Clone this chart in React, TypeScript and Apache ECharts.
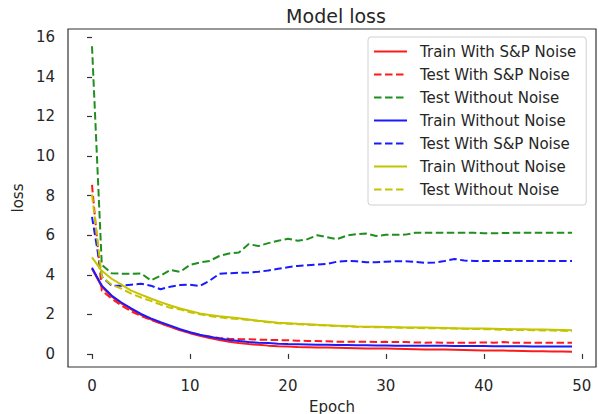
import React, { useEffect, useRef } from "react";
import * as echarts from "echarts";

// Loss per epoch (epochs 0..49)
const trainSP = [
  4.3, 3.4, 2.9, 2.55, 2.25, 1.98, 1.75, 1.55, 1.37, 1.2,
  1.05, 0.92, 0.8, 0.7, 0.62, 0.55, 0.5, 0.46, 0.42, 0.39,
  0.37, 0.35, 0.34, 0.33, 0.32, 0.31, 0.3, 0.29, 0.28, 0.27,
  0.27, 0.26, 0.25, 0.24, 0.23, 0.22, 0.22, 0.21, 0.2, 0.19,
  0.18, 0.17, 0.17, 0.16, 0.15, 0.14, 0.13, 0.12, 0.12, 0.11,
];
const testSP = [
  8.54, 3.2, 2.8, 2.45, 2.15, 1.92, 1.72, 1.55, 1.38, 1.22,
  1.08, 0.96, 0.88, 0.8, 0.77, 0.75, 0.74, 0.72, 0.71, 0.7,
  0.69, 0.67, 0.66, 0.65, 0.64, 0.62, 0.62, 0.61, 0.62, 0.6,
  0.61, 0.6, 0.6, 0.58, 0.57, 0.58, 0.57, 0.57, 0.56, 0.57,
  0.58, 0.57, 0.6, 0.57, 0.56, 0.57, 0.57, 0.56, 0.57, 0.57,
];
const testClean = [
  15.55, 4.5, 4.08, 4.05, 4.05, 4.07, 3.72, 3.95, 4.24, 4.15,
  4.5, 4.62, 4.7, 4.95, 5.08, 5.13, 5.55, 5.45, 5.6, 5.72,
  5.82, 5.72, 5.8, 6.0, 5.9, 5.8, 5.98, 6.05, 6.08, 5.96,
  6.02, 6.02, 6.03, 6.12, 6.12, 6.13, 6.12, 6.13, 6.12, 6.12,
  6.1, 6.1, 6.11, 6.12, 6.12, 6.12, 6.12, 6.12, 6.12, 6.12,
];
const trainClean = [
  4.35, 3.45, 2.95, 2.6, 2.3, 2.02, 1.8, 1.6, 1.43, 1.25,
  1.1, 0.97, 0.87, 0.78, 0.7, 0.65, 0.6, 0.57, 0.55, 0.52,
  0.5, 0.49, 0.48, 0.47, 0.46, 0.45, 0.45, 0.44, 0.44, 0.43,
  0.43, 0.42, 0.42, 0.42, 0.41, 0.41, 0.41, 0.4, 0.4, 0.4,
  0.4, 0.39, 0.39, 0.39, 0.39, 0.38, 0.38, 0.38, 0.38, 0.38,
];
const testSP2 = [
  6.93, 3.9, 3.45, 3.45, 3.5, 3.55, 3.45, 3.27, 3.4, 3.48,
  3.5, 3.43, 3.7, 4.05, 4.08, 4.1, 4.12, 4.15, 4.22, 4.3,
  4.38, 4.45, 4.48, 4.52, 4.55, 4.66, 4.7, 4.68, 4.63, 4.63,
  4.66, 4.68, 4.68, 4.66, 4.6, 4.62, 4.7, 4.8, 4.72, 4.7,
  4.7, 4.7, 4.7, 4.7, 4.7, 4.7, 4.7, 4.7, 4.7, 4.7,
];
const trainClean2 = [
  4.88, 4.2, 3.8, 3.5, 3.2, 3.0, 2.8, 2.62, 2.45, 2.3,
  2.17, 2.05, 1.97, 1.9, 1.85, 1.8, 1.74, 1.68, 1.63, 1.58,
  1.55, 1.52, 1.5, 1.47, 1.45, 1.43, 1.41, 1.39, 1.38, 1.37,
  1.36, 1.35, 1.34, 1.33, 1.33, 1.32, 1.31, 1.3, 1.29, 1.28,
  1.28, 1.27, 1.26, 1.25, 1.25, 1.24, 1.23, 1.22, 1.21, 1.2,
];
const testClean2 = [
  8.05, 3.9, 3.5, 3.3, 3.05, 2.85, 2.68, 2.5, 2.33, 2.25,
  2.1, 2.0, 1.92, 1.85, 1.8, 1.76, 1.72, 1.66, 1.6, 1.55,
  1.53, 1.5, 1.48, 1.45, 1.43, 1.41, 1.39, 1.37, 1.36, 1.35,
  1.34, 1.33, 1.32, 1.31, 1.3, 1.3, 1.29, 1.28, 1.27, 1.26,
  1.25, 1.24, 1.22, 1.21, 1.21, 1.2, 1.19, 1.18, 1.17, 1.15,
];

const xTicks = [0, 10, 20, 30, 40, 50];
const yTicks = [0, 2, 4, 6, 8, 10, 12, 14, 16];

// Legend labels repeat, so each series gets trailing spaces to keep it distinct;
// the legend formatter trims them back off.
const seriesDefs = [
  { name: "Train With S&P Noise", data: trainSP, color: "#ff1a1a", dashed: false },
  { name: "Test With S&P Noise", data: testSP, color: "#ff1a1a", dashed: true },
  { name: "Test Without Noise", data: testClean, color: "#1f8f1f", dashed: true },
  { name: "Train Without Noise", data: trainClean, color: "#1a1aff", dashed: false },
  { name: "Test With S&P Noise ", data: testSP2, color: "#1a1aff", dashed: true },
  { name: "Train Without Noise ", data: trainClean2, color: "#c4c400", dashed: false },
  { name: "Test Without Noise ", data: testClean2, color: "#c4c400", dashed: true },
];

const FONT = "DejaVu Sans";
const TEXT = "#262626";
const AXIS = "#333333";

export default function App() {
  const ref = useRef<HTMLDivElement>(null);

  useEffect(() => {
    if (!ref.current) return;
    const chart = echarts.init(ref.current, undefined, { renderer: "svg" });
    chart.setOption({
      animation: false,
      backgroundColor: "#ffffff",
      title: {
        text: "Model loss",
        left: 331,
        top: 1,
        textAlign: "center",
        textStyle: { fontFamily: FONT, fontSize: 19, fontWeight: "normal", color: TEXT },
      },
      grid: {
        left: 68,
        right: 3,
        top: 29,
        bottom: 47,
        outerBoundsMode: "none",
        containLabel: false,
        show: true,
        borderColor: AXIS,
        borderWidth: 1.2,
        backgroundColor: "transparent",
      },
      legend: {
        orient: "vertical",
        left: 368,
        top: 37,
        padding: [7, 10, 8, 5],
        itemWidth: 33,
        itemHeight: 14,
        itemGap: 8,
        backgroundColor: "rgba(255,255,255,0.85)",
        borderColor: "#d0d0d0",
        borderWidth: 1,
        borderRadius: 3,
        // line sample only, no marker on it
        itemStyle: { opacity: 0 },
        formatter: (n: string) => n.trim(),
        textStyle: {
          fontFamily: FONT,
          fontSize: 15,
          lineHeight: 14,
          color: TEXT,
          padding: [0, 0, 0, 8],
        },
        data: seriesDefs.map((s) => s.name),
      },
      xAxis: {
        type: "value",
        min: -2.45,
        max: 51.45,
        name: "Epoch",
        nameLocation: "middle",
        nameGap: 32,
        nameTextStyle: { fontFamily: FONT, fontSize: 15, color: TEXT },
        axisLine: { show: false },
        splitLine: { show: false },
        axisTick: { show: true, length: 5, customValues: xTicks, lineStyle: { color: AXIS, width: 1.2 } },
        axisLabel: { customValues: xTicks, margin: 11, fontFamily: FONT, fontSize: 15, color: TEXT },
      },
      yAxis: {
        type: "value",
        min: -0.66,
        max: 16.42,
        name: "loss",
        nameLocation: "middle",
        nameGap: 36,
        nameRotate: 90,
        nameTextStyle: { fontFamily: FONT, fontSize: 15, color: TEXT },
        axisLine: { show: false },
        splitLine: { show: false },
        axisTick: { show: true, length: 5, customValues: yTicks, lineStyle: { color: AXIS, width: 1.2 } },
        axisLabel: { customValues: yTicks, margin: 13, fontFamily: FONT, fontSize: 15, color: TEXT },
      },
      series: seriesDefs.map((s) => ({
        type: "line",
        name: s.name,
        data: s.data.map((v, i) => [i, v]),
        symbol: "none",
        showSymbol: false,
        color: s.color,
        lineStyle: { color: s.color, width: 2, type: s.dashed ? [7.5, 3.5] : "solid" },
        emphasis: { disabled: true },
      })),
    });
    return () => chart.dispose();
  }, []);

  return (
    <div
      ref={ref}
      style={{ position: "fixed", left: 0, top: 0, width: 599, height: 414 }}
    />
  );
}
